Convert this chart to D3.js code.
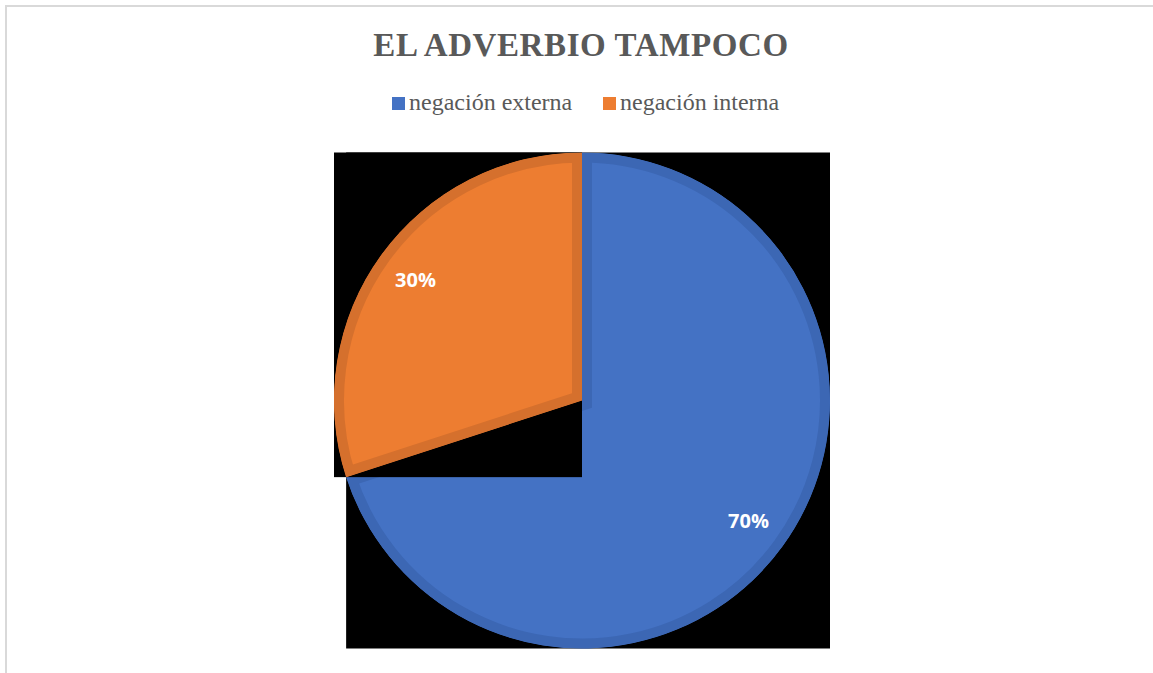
<!DOCTYPE html>
<html lang="es">
<head>
<meta charset="utf-8">
<script src="https://d3js.org/d3.v7.min.js"></script>
<style>
  body, html { margin: 0; padding: 0; background: #fff; }
  svg { display: block; }
</style>
</head>
<body>
<div id="chart"></div>
<script>
// chart data
const categories = ["negación externa", "negación interna"];
const values = [70, 30];
const colors = ["#4472C4", "#ED7D31"];
const edgeColors = ["#3C67B4", "#D5702D"];
const pctLabels = ["70%", "30%"];

const width = 1153, height = 673;
const cx = 582, cy = 400.5, r = 248;

const svg = d3.select("#chart").append("svg")
    .attr("width", width)
    .attr("height", height);

// light frame (only top and left edges show)
svg.append("path")
    .attr("d", "M6,673 V6 H1153")
    .attr("fill", "none")
    .attr("stroke", "#d9d9d9")
    .attr("stroke-width", 2);

// title
svg.append("text")
    .attr("x", 581)
    .attr("y", 56)
    .attr("text-anchor", "middle")
    .style("font-family", "'Liberation Serif', 'Times New Roman', serif")
    .style("font-weight", "bold")
    .style("font-size", "33px")
    .style("letter-spacing", "0.6px")
    .attr("fill", "#595959")
    .text("EL ADVERBIO TAMPOCO");

// legend
const legendX = [392, 603];
const legend = svg.append("g");
categories.forEach((c, i) => {
  legend.append("rect")
      .attr("x", legendX[i]).attr("y", 97)
      .attr("width", 13).attr("height", 13)
      .attr("fill", colors[i]);
  legend.append("text")
      .attr("x", legendX[i] + 17).attr("y", 110)
      .style("font-family", "'Liberation Serif', 'Times New Roman', serif")
      .style("font-size", "24px")
      .attr("fill", "#595959")
      .text(c);
});

// pie
const pie = d3.pie().sort(null).value(d => d)(values);
const arc = d3.arc().innerRadius(0).outerRadius(r);

const g = svg.append("g").attr("transform", `translate(${cx},${cy})`);
const defs = svg.append("defs");

pie.forEach((p, i) => {
  const [[x0, y0], [x1, y1]] = boundsOf(p);
  // black box behind each slice, as in the exported picture
  g.append("rect")
      .attr("x", x0).attr("y", y0)
      .attr("width", x1 - x0).attr("height", y1 - y0)
      .attr("fill", "#000");

  defs.append("clipPath").attr("id", "clip" + i)
    .append("path")
      .attr("d", arc(p));

  // thick stroke clipped to the slice -> darker inner rim
  g.append("path")
      .attr("d", arc(p))
      .attr("fill", colors[i])
      .attr("stroke", edgeColors[i])
      .attr("stroke-width", 20)
      .attr("clip-path", `url(#clip${i})`);
});

// labels
const labelArc = d3.arc().innerRadius(r * 0.83).outerRadius(r * 0.83);
pie.forEach((p, i) => {
  const [lx, ly] = labelArc.centroid(p);
  g.append("text")
      .attr("x", lx).attr("y", ly)
      .attr("text-anchor", "middle")
      .attr("dy", "0.35em")
      .style("font-family", "'Open Sans', 'Liberation Sans', sans-serif")
      .style("font-weight", "bold")
      .style("font-size", "20px")
      .attr("fill", "#fff")
      .text(pctLabels[i]);
});

function boundsOf(p) {
  // bounding box of a slice relative to the centre (angles clockwise from 12 o'clock)
  const pts = [[0, 0]];
  const add = a => pts.push([r * Math.sin(a), -r * Math.cos(a)]);
  add(p.startAngle); add(p.endAngle);
  for (let k = 0; k <= 4; k++) {
    const a = k * Math.PI / 2;
    if (a > p.startAngle && a < p.endAngle) add(a);
  }
  return [[d3.min(pts, d => d[0]), d3.min(pts, d => d[1])],
          [d3.max(pts, d => d[0]), d3.max(pts, d => d[1])]];
}
</script>
</body>
</html>
